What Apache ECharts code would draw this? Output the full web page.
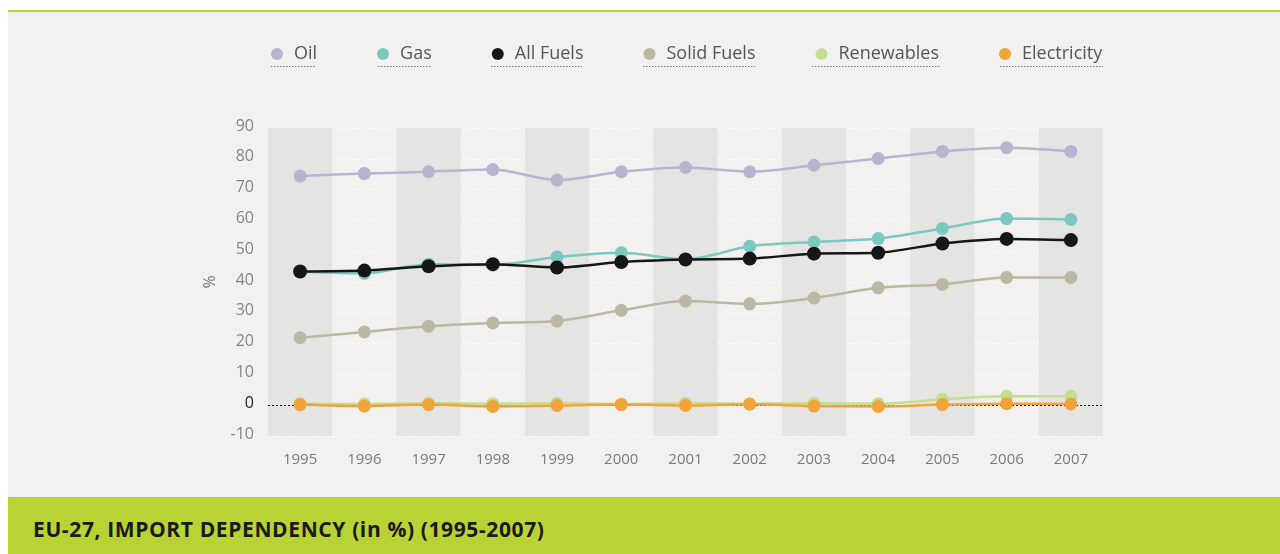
<!DOCTYPE html>
<html>
<head>
<meta charset="utf-8">
<script src="https://cdn.jsdelivr.net/npm/echarts@6/dist/echarts.min.js"></script>
<style>
  html, body { margin: 0; padding: 0; background: #ffffff; }
  #wrap { position: relative; width: 1280px; height: 554px; overflow: hidden; }
  #panel { position: absolute; left: 8px; top: 10px; width: 1272px; height: 487px;
           background: #f2f1ef; border-top: 2px solid #bcd33a; box-sizing: border-box; }
  #band { position: absolute; left: 8px; top: 497px; width: 1272px; height: 57px; background: #b9d334; }
  #band span { position: absolute; left: 25px; top: 18px; font-family: "Open Sans", sans-serif;
               font-weight: 700; font-size: 21px; line-height: 29px; color: #1a1a1a; letter-spacing: 0.62px; }
  #main { position: absolute; left: 0; top: 0; width: 1280px; height: 554px; }
</style>
</head>
<body>
<div id="wrap">
  <div id="panel"></div>
  <div id="band"><span>EU-27, IMPORT DEPENDENCY (in %) (1995-2007)</span></div>
  <div id="main"></div>
</div>
<script>
var years = ['1995','1996','1997','1998','1999','2000','2001','2002','2003','2004','2005','2006','2007'];
var oil = [74.4, 75.2, 75.8, 76.5, 73.1, 75.8, 77.2, 75.8, 77.9, 80.1, 82.4, 83.6, 82.4];
var gas = [43.3, 42.8, 45.8, 45.5, 48.1, 49.5, 47.4, 51.6, 53.0, 54.1, 57.4, 60.6, 60.3];
var allFuels = [43.4, 43.7, 45.1, 45.8, 44.7, 46.5, 47.3, 47.6, 49.2, 49.5, 52.5, 54.0, 53.6];
var solidFuels = [21.9, 23.8, 25.6, 26.7, 27.3, 30.8, 33.8, 32.9, 34.8, 38.1, 39.2, 41.5, 41.5];
var renewables = [0.5, 0.4, 0.6, 0.5, 0.6, 0.4, 0.6, 0.5, 0.6, 0.5, 1.9, 2.9, 2.9];
var electricity = [0.2, -0.3, 0.2, -0.4, -0.1, 0.2, -0.1, 0.3, -0.3, -0.4, 0.2, 0.5, 0.4];
var yTicks = { min: -10, max: 90, interval: 10 };

var myChart = echarts.init(document.getElementById('main'));

function line(name, data, color, size) {
    return {
        name: name,
        type: 'line',
        data: data,
        smooth: 0.3,
        symbol: 'circle',
        symbolSize: size || 13,
        itemStyle: { color: color },
        lineStyle: { color: color, width: 2.5 },
        emphasis: { disabled: true },
        z: 3
    };
}

var series = [
    line('Oil', oil, '#b7b4d2'),
    line('Gas', gas, '#7cc8c1'),
    line('Solid Fuels', solidFuels, '#bcb7a2'),
    line('Renewables', renewables, '#c3de92'),
    line('Electricity', electricity, '#f0a43a'),
    line('All Fuels', allFuels, '#161616', 14)
];
// black dotted zero line
series[4].markLine = {
    silent: true,
    symbol: 'none',
    label: { show: false },
    lineStyle: { color: '#111', type: [2, 2], width: 1 },
    data: [{ yAxis: 0 }],
    z: 2
};

// dotted underlines below legend entries (x from, x to)
var underlines = [[271, 316], [378, 432], [491, 582], [643, 755], [812, 941], [1000, 1103]];
var graphics = underlines.map(function (u) {
    return {
        type: 'line',
        silent: true,
        shape: { x1: u[0], y1: 66.5, x2: u[1], y2: 66.5 },
        style: { stroke: '#777', lineWidth: 1, lineDash: [1.5, 1.5] }
    };
});

var option = {
    animation: false,
    textStyle: { fontFamily: 'Open Sans' },
    graphic: graphics,
    legend: {
        data: ['Oil', 'Gas', 'All Fuels', 'Solid Fuels', 'Renewables', 'Electricity'],
        left: 266,
        top: 40,
        icon: 'circle',
        itemWidth: 12,
        itemHeight: 12,
        itemGap: 60,
        textStyle: { color: '#555', fontSize: 18, padding: [0, 0, 0, 6] }
    },
    grid: { left: 268, right: 177, top: 128, bottom: 118 },
    xAxis: {
        type: 'category',
        data: years,
        boundaryGap: true,
        axisLine: { show: false },
        axisTick: { show: false },
        axisLabel: { color: '#7a7a7a', fontSize: 15, margin: 16 },
        splitArea: { show: true, areaStyle: { color: ['#e4e4e2', 'rgba(0,0,0,0)'] } }
    },
    yAxis: {
        type: 'value',
        min: yTicks.min,
        max: yTicks.max,
        interval: yTicks.interval,
        name: '%',
        nameLocation: 'middle',
        nameGap: 50,
        nameRotate: 90,
        nameTextStyle: { color: '#7a7a7a', fontSize: 16 },
        axisLine: { show: false },
        axisTick: { show: false },
        axisLabel: {
            fontSize: 16,
            margin: 14,
            verticalAlign: 'bottom',
            lineHeight: 16,
            padding: [0, 0, -6, 0],
            color: function (v) { return v == 0 ? '#222' : '#858585'; }
        },
        splitLine: { lineStyle: { color: '#ffffff', type: [2, 3], width: 1 } }
    },
    series: series
};

myChart.setOption(option);
</script>
</body>
</html>
